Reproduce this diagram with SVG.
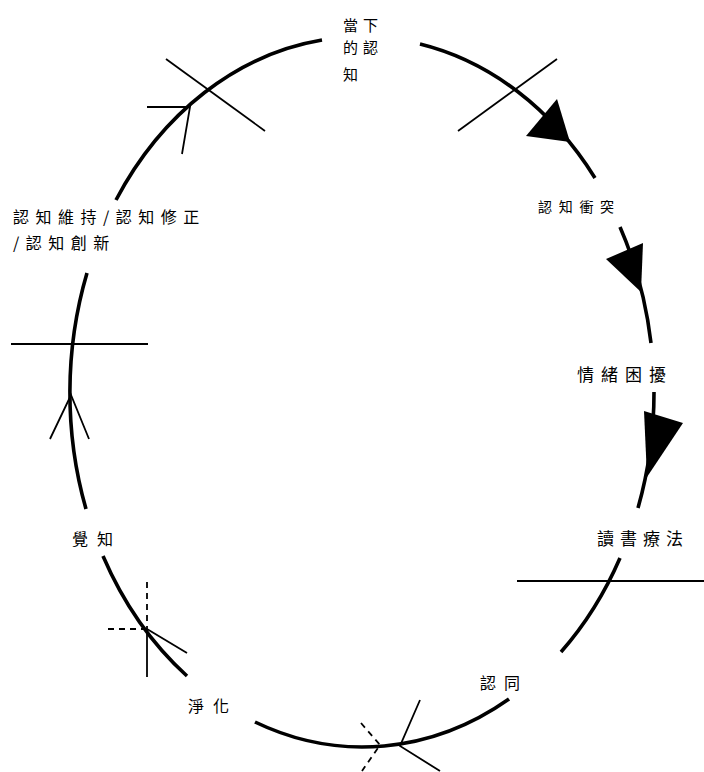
<svg xmlns="http://www.w3.org/2000/svg" width="704" height="772" viewBox="0 0 704 772">
<style>
.arc{fill:none;stroke:#000;stroke-width:3.6}
.thin{fill:none;stroke:#000;stroke-width:1.8}
.dash{fill:none;stroke:#000;stroke-width:1.8;stroke-dasharray:6 5}
.head{fill:#000;stroke:none}
.lbl{font-family:"Noto Sans CJK TC","Noto Sans CJK SC",sans-serif;fill:#000}
</style>
<rect width="704" height="772" fill="#fff"/>
<g id="connectors">
<path class="arc" d="M420,44 A292 355 0 0 1 595,178"/>
<path class="arc" d="M620,227 A292 355 0 0 1 651,343"/>
<path class="arc" d="M654,392 A292 355 0 0 1 638,508"/>
<path class="arc" d="M620,558 A292 355 0 0 1 561,652"/>
<path class="arc" d="M509,699 A292 355 0 0 1 255,722"/>
<path class="arc" d="M187,676 A292 355 0 0 1 103,556"/>
<path class="arc" d="M86,509 A292 355 0 0 1 87,273"/>
<path class="arc" d="M116,200 A292 355 0 0 1 322,40"/>
<polygon class="head" points="557,99 526,136 570,142"/>
<polygon class="head" points="606,259 643,243 641,292"/>
<polygon class="head" points="644,411 683,423 647,477"/>
<line class="thin" x1="166" y1="59" x2="265" y2="131"/>
<polyline class="thin" points="147,107 190,107 182,154"/>
<line class="thin" x1="458" y1="131" x2="557" y2="59"/>
<line class="thin" x1="11" y1="344" x2="148" y2="344"/>
<polyline class="thin" points="50,439 71,395 89,439"/>
<line class="thin" x1="517" y1="581" x2="704" y2="581"/>
<line class="dash" x1="147" y1="582" x2="147" y2="629"/>
<line class="dash" x1="108" y1="629" x2="147" y2="629"/>
<line class="thin" x1="147" y1="629" x2="147" y2="677"/>
<line class="thin" x1="147" y1="629" x2="187" y2="653"/>
<polyline class="thin" points="420,700 400,746 440,771"/>
<polyline class="dash" points="361,723 380,745 362,771"/>
</g>
<g id="node-current">
<text class="lbl" font-size="15" letter-spacing="5" x="343" y="31">當下</text>
<text class="lbl" font-size="15" letter-spacing="5" x="343" y="53">的認</text>
<text class="lbl" font-size="15" letter-spacing="5" x="343" y="80">知</text>
</g>
<g id="node-conflict"><text class="lbl" font-size="14" letter-spacing="6.7" x="538" y="212">認知衝突</text></g>
<g id="node-emotion"><text class="lbl" font-size="17" letter-spacing="7" x="577" y="380.5">情緒困擾</text></g>
<g id="node-bibliotherapy"><text class="lbl" font-size="17" letter-spacing="6" x="597" y="544.5">讀書療法</text></g>
<g id="node-identify"><text class="lbl" font-size="16" letter-spacing="8" x="480" y="689">認同</text></g>
<g id="node-catharsis"><text class="lbl" font-size="16" letter-spacing="9" x="188" y="712">淨化</text></g>
<g id="node-awareness"><text class="lbl" font-size="16" letter-spacing="9" x="72" y="545">覺知</text></g>
<g id="node-maintain">
<text class="lbl" font-size="16" letter-spacing="6.5" x="13" y="223">認知維持/認知修正</text>
<text class="lbl" font-size="16" letter-spacing="6.5" x="13" y="249">/認知創新</text>
</g>
</svg>
